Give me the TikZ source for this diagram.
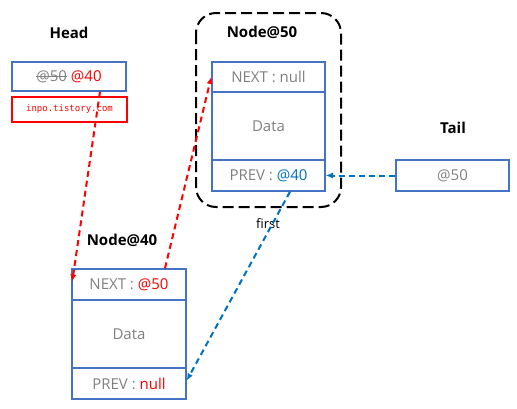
\documentclass[tikz,border=0pt]{standalone}
\usepackage{fontspec}
\setmainfont{Open Sans}
\setmonofont{DejaVu Sans Mono}
\usetikzlibrary{arrows.meta}
\definecolor{boxblue}{HTML}{4472C4}
\definecolor{linkblue}{HTML}{0070C0}
\definecolor{txtgray}{HTML}{808080}
\newcommand\strk[1]{\setbox0\hbox{#1}\rlap{\rule[0.32em]{\wd0}{0.9pt}}\box0\relax}

\begin{document}
\begin{tikzpicture}[x=1pt, y=-1pt]
            \tikzstyle{cell} = [draw=boxblue, line width=1.5pt, text=txtgray, inner sep=0pt, font=\fontsize{15}{17}\selectfont]
            \tikzstyle{title} = [font=\bfseries\fontsize{15}{17}\selectfont]
            \tikzstyle{redlink} = [red, line width=2pt, dash pattern=on 6pt off 4pt, -{Latex[length=7pt, width=6pt]}]
            \tikzstyle{bluelink} = [linkblue, line width=2pt, dash pattern=on 6pt off 4pt, -{Latex[length=7pt, width=6pt]}]
            \useasboundingbox (0, 0) rectangle (517, 408);
            % Node@50 with its dashed frame
            \draw[line width=2pt, dash pattern=on 11pt off 5pt, rounded corners=20pt] (196, 13) rectangle (341, 207);
            \node[title] (t50) at (262, 32) {Node@50};
            \node[cell, minimum width=113pt, minimum height=30pt] (n50next) at (268.5, 77) {NEXT : null};
            \node[cell, minimum width=113pt, minimum height=68pt] (n50data) at (268.5, 126) {Data};
            \node[cell, minimum width=113pt, minimum height=31pt] (n50prev) at (268.5, 175.5) {PREV : \textcolor{linkblue}{@40}};
            \node (first) at (268, 224) {\fontsize{13}{15}\selectfont first};
            % Node@40
            \node[title] (t40) at (122, 240) {Node@40};
            \node[cell, minimum width=114pt, minimum height=31pt] (n40next) at (129, 284.5) {NEXT : \textcolor{red}{@50}};
            \node[cell, minimum width=114pt, minimum height=68pt] (n40data) at (129, 334) {Data};
            \node[cell, minimum width=114pt, minimum height=31pt] (n40prev) at (129, 383.5) {PREV : \textcolor{red}{null}};
            % head and tail
            \node[title] (thead) at (69, 33) {Head};
            \node[cell, minimum width=114pt, minimum height=29pt] (head) at (69, 76.5) {\strk{@50} \textcolor{red}{@40}};
            \node[draw=red, line width=2pt, text=red, minimum width=115pt, minimum height=25pt, inner sep=0pt, font=\ttfamily\fontsize{9}{10}\selectfont] (blog) at (69.5, 109.5) {inpo.tistory.com};
            \node[title] (ttail) at (453, 128) {Tail};
            \node[cell, minimum width=113pt, minimum height=31pt] (tail) at (452.5, 175.5) {@50};
            % links
            \draw[redlink] ([xshift=31pt]head.south) -- ([xshift=1pt, yshift=3pt]n40next.west);
            \draw[redlink] ([xshift=36pt]n40next.north) -- (n50next.west);
            \draw[bluelink] (tail.west) -- (n50prev.east);
            \draw[bluelink] ([xshift=21.5pt]n50prev.south) -- ([yshift=3pt]n40prev.east);
        \end{tikzpicture}
\end{document}
